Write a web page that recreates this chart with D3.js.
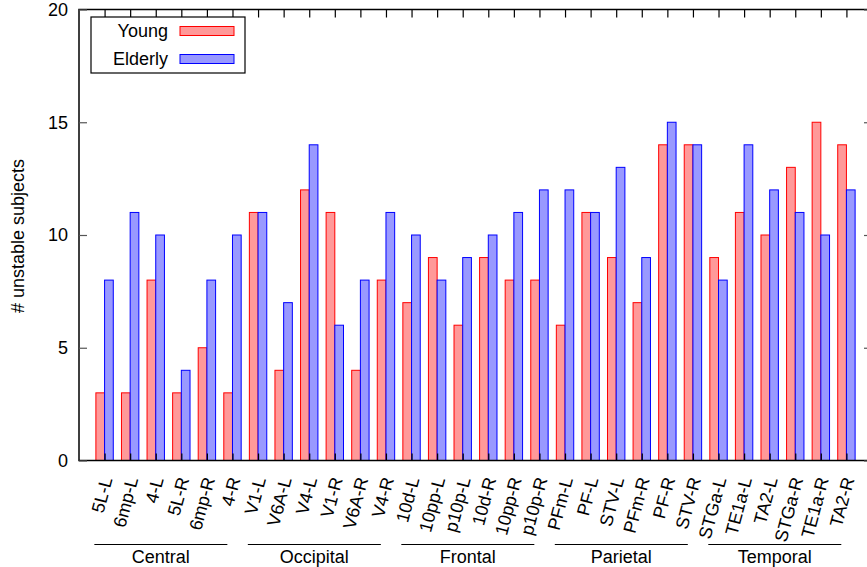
<!DOCTYPE html>
<html><head><meta charset="utf-8">
<script src="https://cdn.jsdelivr.net/npm/d3@7"></script>
<style>body{margin:0;background:#fff}svg{display:block}text{font-family:"Liberation Sans",Arial,sans-serif;fill:#000}</style>
</head><body><svg id="c" width="867" height="567"></svg>
<script>
const regions = ["5L-L","6mp-L","4-L","5L-R","6mp-R","4-R","V1-L","V6A-L","V4-L","V1-R","V6A-R","V4-R","10d-L","10pp-L","p10p-L","10d-R","10pp-R","p10p-R","PFm-L","PF-L","STV-L","PFm-R","PF-R","STV-R","STGa-L","TE1a-L","TA2-L","STGa-R","TE1a-R","TA2-R"];
const young   = [3,3,8,3,5,3, 11,4,12,11,4,8, 7,9,6,9,8,8, 6,11,9,7,14,14, 9,11,10,13,15,14];
const elderly = [8,11,10,4,8,10, 11,7,14,6,8,11, 10,8,9,10,11,12, 12,11,13,9,15,14, 8,14,12,11,10,12];
const lobes = ["Central","Occipital","Frontal","Parietal","Temporal"];
const lobeFirst = [0,6,12,18,24];
const lobeLast = [5,11,17,23,29];
const yTicks = [0,5,10,15,20];
const seriesNames = ["Young","Elderly"];

const svg = d3.select("#c");
const L=79, R=872, T=9.5, B=460.5;
const x = d3.scaleLinear().domain([-1,30]).range([L,R]);
const y = d3.scaleLinear().domain([0,20]).range([B,T]);
const bw = x(0.34)-x(0);
const cols = [{fill:"#ff9999",stroke:"#ff0000"},{fill:"#9999ff",stroke:"#0000ff"}];

[young,elderly].forEach((vals,si)=>{
  svg.append("g").selectAll("rect").data(vals).join("rect")
    .attr("x",(d,i)=> si===0 ? x(i)-bw : x(i))
    .attr("y",d=>y(d)).attr("width",bw).attr("height",d=>y(0)-y(d))
    .attr("fill",cols[si].fill).attr("stroke",cols[si].stroke).attr("stroke-width",1);
});

svg.append("rect").attr("x",L).attr("y",T).attr("width",R-L).attr("height",B-T)
  .attr("fill","none").attr("stroke","#000").attr("stroke-width",1.5);

const yl = svg.append("g").attr("transform",`translate(${L},0)`)
  .call(d3.axisRight(y).tickValues(yTicks).tickSize(8).tickFormat(""));
yl.select(".domain").remove();
yl.selectAll("line").attr("stroke","#555").attr("stroke-width",1.2);
const yr = svg.append("g").attr("transform",`translate(${R},0)`)
  .call(d3.axisLeft(y).tickValues(yTicks).tickSize(8).tickFormat(""));
yr.select(".domain").remove();
yr.selectAll("line").attr("stroke","#555").attr("stroke-width",1.2);
svg.append("g").selectAll("text").data(yTicks).join("text")
  .attr("x",L-11).attr("y",d=>y(d)).attr("dy","0.36em").attr("text-anchor","end")
  .attr("font-size",18).text(d=>d);

const idx = d3.range(regions.length);
const xb = svg.append("g").attr("transform",`translate(0,${B})`)
  .call(d3.axisTop(x).tickValues(idx).tickSize(7).tickFormat(""));
xb.select(".domain").remove(); xb.selectAll("line").attr("stroke","#000").attr("stroke-width",1.2);
const xt = svg.append("g").attr("transform",`translate(0,${T})`)
  .call(d3.axisBottom(x).tickValues(idx).tickSize(8).tickFormat(""));
xt.select(".domain").remove(); xt.selectAll("line").attr("stroke","#000").attr("stroke-width",1.2);

svg.append("g").selectAll("text").data(regions).join("text")
  .attr("text-anchor","end").attr("font-size",18)
  .attr("transform",(d,i)=>`translate(${x(i)+2},${B+17}) rotate(-75)`)
  .attr("dy","0.35em").text(d=>d);

lobes.forEach((name,k)=>{
  const x0=x(lobeFirst[k]-0.4), x1=x(lobeLast[k]-0.2);
  svg.append("line").attr("x1",x0).attr("x2",x1).attr("y1",544.5).attr("y2",544.5)
    .attr("stroke","#000").attr("stroke-width",1);
  svg.append("text").attr("x",(x0+x1)/2).attr("y",563).attr("text-anchor","middle")
    .attr("font-size",18).text(name);
});

svg.append("text").attr("transform",`translate(24,236) rotate(-90)`)
  .attr("text-anchor","middle").attr("font-size",18).text("# unstable subjects");

const lg = svg.append("g");
lg.append("rect").attr("x",91).attr("y",17).attr("width",154).attr("height",56)
  .attr("fill","#fff").attr("stroke","#000").attr("stroke-width",1.2);
seriesNames.forEach((n,i)=>{
  const cy = 31 + i*28;
  lg.append("text").attr("x",168).attr("y",cy).attr("dy","0.36em").attr("text-anchor","end")
    .attr("font-size",18).text(n);
  lg.append("rect").attr("x",180).attr("y",cy-4.5).attr("width",54).attr("height",9)
    .attr("fill",cols[i].fill).attr("stroke",cols[i].stroke).attr("stroke-width",1);
});
</script></body></html>
